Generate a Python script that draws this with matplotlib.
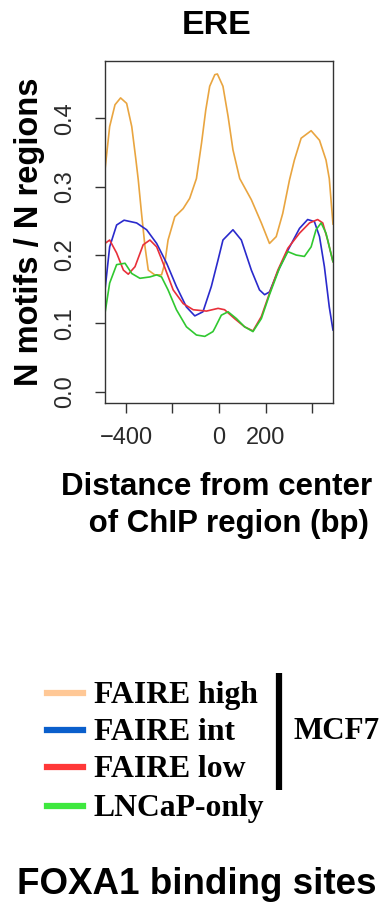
import matplotlib
matplotlib.use("Agg")
import matplotlib.pyplot as plt
from matplotlib.lines import Line2D

# Motif density profiles around FOXA1 ChIP region centers (ERE motif)
faire_high_x = [-490, -470, -447, -423, -397, -375, -357, -347, -333, -318, -304, -276, -247, -233, -219, -190, -154, -126, -104, -97, -75, -57, -40, -18, -7, 17, 39, 60, 89, 139, 182, 217, 246, 274, 303, 324, 353, 396, 432, 460, 474, 490]
faire_high_y = [0.325, 0.388, 0.420, 0.430, 0.422, 0.388, 0.339, 0.310, 0.261, 0.212, 0.178, 0.171, 0.171, 0.188, 0.222, 0.256, 0.268, 0.283, 0.305, 0.312, 0.364, 0.412, 0.447, 0.464, 0.465, 0.447, 0.403, 0.354, 0.312, 0.281, 0.247, 0.217, 0.227, 0.261, 0.310, 0.339, 0.371, 0.382, 0.368, 0.339, 0.312, 0.245]

faire_int_x = [-490, -470, -440, -408, -354, -311, -268, -225, -183, -140, -104, -69, -33, -4, 17, 60, 96, 139, 174, 196, 217, 253, 296, 346, 381, 410, 432, 453, 474, 490]
faire_int_y = [0.149, 0.212, 0.244, 0.251, 0.247, 0.237, 0.217, 0.188, 0.154, 0.124, 0.111, 0.117, 0.154, 0.193, 0.222, 0.237, 0.222, 0.178, 0.149, 0.142, 0.146, 0.176, 0.207, 0.239, 0.252, 0.249, 0.227, 0.183, 0.124, 0.090]

faire_low_x = [-490, -470, -440, -411, -390, -361, -326, -297, -268, -240, -197, -154, -111, -54, -4, 24, 67, 110, 146, 182, 217, 253, 296, 346, 389, 424, 446, 467, 490]
faire_low_y = [0.217, 0.222, 0.203, 0.178, 0.172, 0.183, 0.215, 0.222, 0.212, 0.188, 0.149, 0.129, 0.120, 0.118, 0.122, 0.120, 0.107, 0.095, 0.089, 0.110, 0.144, 0.178, 0.210, 0.232, 0.247, 0.252, 0.247, 0.222, 0.190]

lncap_x = [-490, -470, -440, -404, -375, -340, -297, -268, -247, -219, -183, -140, -97, -61, -26, -18, 10, 39, 75, 110, 146, 182, 217, 260, 296, 332, 367, 396, 417, 439, 460, 490]
lncap_y = [0.115, 0.159, 0.186, 0.188, 0.173, 0.166, 0.168, 0.171, 0.168, 0.149, 0.120, 0.095, 0.083, 0.081, 0.088, 0.093, 0.112, 0.117, 0.107, 0.095, 0.088, 0.107, 0.142, 0.181, 0.205, 0.200, 0.198, 0.212, 0.237, 0.247, 0.232, 0.190]

x_ticks = [-400, -200, 0, 200, 400]
x_tick_labels = ["\u2212400", "", "0", "200", ""]
y_ticks = [0.0, 0.1, 0.2, 0.3, 0.4]
y_tick_labels = ["0.0", "0.1", "0.2", "0.3", "0.4"]

legend_labels = ["FAIRE high", "FAIRE int", "FAIRE low", "LNCaP-only"]
legend_colors = ["#FFC896", "#0A5FCC", "#FF3838", "#3EE83E"]
line_colors = ["#E9A540", "#2A2ACC", "#E8303A", "#30C830"]

W, H = 383, 909
fig = plt.figure(figsize=(W / 100, H / 100), dpi=100)


def fx(px):
    return px / W


def fy(py):
    return 1 - py / H


sans = ["Liberation Sans", "DejaVu Sans"]
serif = ["Liberation Serif", "DejaVu Serif"]

ax = fig.add_axes([fx(105), fy(403), fx(333) - fx(105), fy(61) - fy(403)])
series = [(faire_high_x, faire_high_y), (faire_int_x, faire_int_y),
          (faire_low_x, faire_low_y), (lncap_x, lncap_y)]
for (xs, ys), c in zip(series, line_colors):
    ax.plot(xs, ys, color=c, lw=1.2, solid_joinstyle="round",
            solid_capstyle="round")

ax.set_xlim(-490, 490)
ax.set_ylim(-0.0165, 0.484)
ax.set_xticks(x_ticks)
ax.set_xticklabels(x_tick_labels, family=sans)
ax.set_yticks(y_ticks)
ax.set_yticklabels(y_tick_labels, family=sans, rotation=90, va="center")
for s in ax.spines.values():
    s.set_color("#333333")
    s.set_linewidth(1.0)
ax.tick_params(axis="both", direction="out", length=7.5, width=1.0,
               color="#333333", labelcolor="#2a2a2a", labelsize=17)
ax.tick_params(axis="x", pad=10)
ax.tick_params(axis="y", pad=13)

fig.text(fx(217), fy(25.5), "ERE", ha="center", va="center",
         fontsize=24.5, fontweight="bold", family=sans)
fig.text(fx(30), fy(232), "N motifs / N regions", ha="center", va="center",
         rotation=90, fontsize=23.5, fontweight="bold", family=sans)
fig.text(fx(217), fy(487), "Distance from center", ha="center", va="center",
         fontsize=22.5, fontweight="bold", family=sans)
fig.text(fx(224), fy(524), " of ChIP region (bp)", ha="center", va="center",
         fontsize=22.5, fontweight="bold", family=sans)

# Legend drawn by hand, with the MCF7 bracket
rows = [693, 730, 767, 806]
for lab, col, ry in zip(legend_labels, legend_colors, rows):
    fig.add_artist(Line2D([fx(47), fx(83)], [fy(ry), fy(ry)], color=col,
                          lw=4.5, transform=fig.transFigure))
    fig.text(fx(94), fy(ry + 10), lab, ha="left", va="baseline",
             fontsize=22.8, fontweight="bold", family=serif)
fig.add_artist(Line2D([fx(279), fx(279)], [fy(673), fy(790)], color="black",
                      lw=4.5, solid_capstyle="butt", transform=fig.transFigure))
fig.text(fx(294), fy(739), "MCF7", ha="left", va="baseline",
         fontsize=22.3, fontweight="bold", family=serif)

fig.text(fx(197), fy(885), "FOXA1 binding sites", ha="center", va="center",
         fontsize=26.5, fontweight="bold", family=sans)

fig.savefig("out.png", dpi=100)
